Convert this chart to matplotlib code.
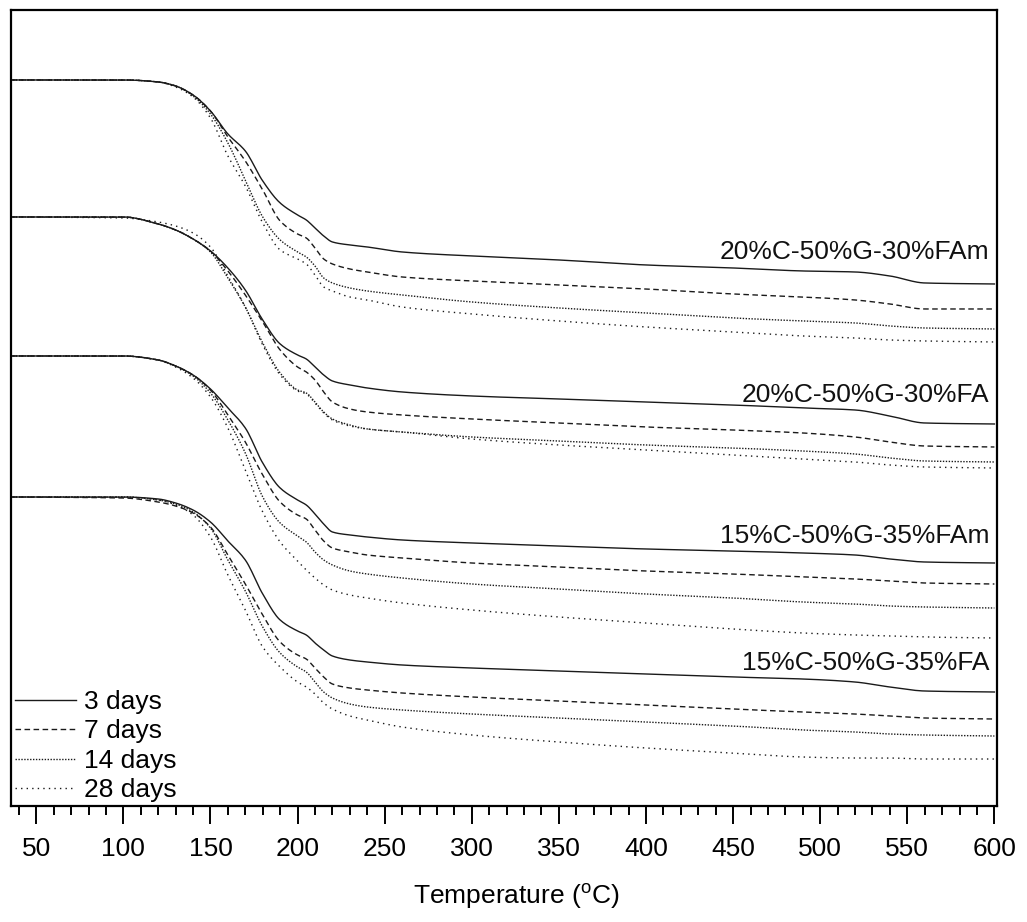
import numpy as np
import matplotlib
matplotlib.use("Agg")
from matplotlib import pyplot as plt

plt.rcParams['font.family'] = ['Liberation Sans', 'DejaVu Sans']
plt.rcParams['mathtext.fontset'] = 'custom'
plt.rcParams['mathtext.rm'] = 'Liberation Sans'

# temperatura (C) comun a todas las curvas
temp = [35, 100, 120, 130, 140, 150, 160, 170, 180, 190, 200, 205, 210, 215, 220,
        230, 240, 260, 300, 350, 400, 450, 490, 520, 540, 560, 600]

# masa residual (%) - 20%C-50%G-30%FAm
fam20_3d = [100, 100, 99.8, 99.4, 98.5, 96.9, 94.6, 92.9, 89.9, 87.7, 86.5, 86.0, 85.2, 84.4, 83.8,
            83.5, 83.3, 82.8, 82.4, 82.0, 81.5, 81.2, 80.9, 80.8, 80.4, 79.7, 79.6]
fam20_7d = [100, 100, 99.8, 99.4, 98.5, 96.9, 94.3, 91.9, 89.0, 85.9, 84.6, 84.2, 83.2, 82.1, 81.6,
            81.1, 80.8, 80.3, 79.9, 79.5, 79.1, 78.6, 78.3, 78.0, 77.6, 77.1, 77.1]
fam20_14d = [100, 100, 99.8, 99.4, 98.4, 96.6, 93.7, 90.0, 86.3, 84.0, 82.8, 82.3, 81.4, 80.2, 79.7,
             79.2, 78.9, 78.5, 77.8, 77.2, 76.7, 76.2, 75.9, 75.7, 75.4, 75.2, 75.1]
fam20_28d = [100, 100, 99.8, 99.3, 98.3, 96.2, 92.4, 89.4, 85.7, 83.0, 82.1, 81.6, 80.5, 79.3, 78.9,
             78.3, 78.0, 77.3, 76.6, 75.9, 75.3, 74.8, 74.4, 74.2, 74.0, 73.9, 73.8]

# 20%C-50%G-30%FA
fa20_3d = [100, 100, 99.3, 98.7, 97.8, 96.6, 94.9, 92.7, 89.7, 87.3, 86.2, 85.8, 85.0, 84.2, 83.6,
           83.2, 82.9, 82.5, 82.1, 81.8, 81.5, 81.2, 80.9, 80.7, 80.1, 79.4, 79.3]
fa20_7d = [100, 100, 99.3, 98.7, 97.8, 96.6, 94.6, 92.2, 89.5, 86.7, 85.0, 84.5, 83.7, 82.5, 81.5,
           80.8, 80.5, 80.2, 79.8, 79.4, 79.0, 78.7, 78.4, 78.0, 77.5, 77.1, 77.0]
fa20_14d = [100, 100, 99.3, 98.7, 97.8, 96.5, 93.9, 91.0, 87.4, 84.4, 82.7, 82.4, 81.5, 80.5, 79.8,
            79.2, 78.8, 78.5, 78.0, 77.6, 77.2, 76.9, 76.6, 76.3, 75.9, 75.6, 75.5]
fa20_28d = [100, 99.9, 99.5, 99.1, 98.4, 97.0, 94.1, 91.0, 87.2, 84.2, 82.6, 82.3, 81.4, 80.4, 79.7,
            79.1, 78.8, 78.5, 77.8, 77.2, 76.7, 76.2, 75.8, 75.5, 75.2, 75.0, 74.9]

# 15%C-50%G-35%FAm
fam15_3d = [100, 100, 99.6, 99.0, 98.1, 96.7, 94.8, 92.8, 89.3, 86.8, 85.6, 85.1, 84.2, 83.2, 82.4,
            82.1, 81.9, 81.6, 81.3, 81.0, 80.7, 80.5, 80.3, 80.1, 79.7, 79.4, 79.3]
fam15_7d = [100, 100, 99.6, 99.0, 98.1, 96.6, 94.1, 91.4, 88.1, 85.4, 84.1, 83.7, 82.6, 81.5, 80.8,
            80.4, 80.1, 79.8, 79.3, 78.9, 78.5, 78.2, 77.9, 77.7, 77.5, 77.3, 77.2]
fam15_14d = [100, 100, 99.6, 99.0, 98.0, 96.3, 93.6, 90.3, 85.9, 83.3, 82.0, 81.4, 80.4, 79.6, 79.1,
             78.5, 78.2, 77.8, 77.2, 76.7, 76.2, 75.8, 75.4, 75.2, 75.0, 74.9, 74.8]
fam15_28d = [100, 100, 99.6, 98.9, 97.8, 95.9, 92.8, 88.6, 84.4, 81.4, 79.5, 78.6, 77.8, 77.1, 76.6,
             76.1, 75.8, 75.3, 74.6, 73.9, 73.3, 72.7, 72.3, 72.1, 72.0, 71.9, 71.8]

# 15%C-50%G-35%FA
fa15_3d = [100, 100, 99.8, 99.4, 98.7, 97.5, 95.6, 93.7, 90.3, 87.7, 86.6, 86.2, 85.4, 84.7, 84.1,
           83.7, 83.5, 83.2, 82.9, 82.6, 82.3, 82.0, 81.8, 81.5, 81.0, 80.6, 80.5]
fa15_7d = [100, 99.9, 99.5, 99.1, 98.4, 97.0, 94.2, 91.3, 88.2, 85.5, 84.2, 83.8, 82.9, 82.0, 81.3,
           80.9, 80.7, 80.4, 80.0, 79.6, 79.2, 78.8, 78.5, 78.3, 78.1, 77.9, 77.8]
fa15_14d = [100, 100, 99.7, 99.3, 98.5, 96.9, 93.7, 90.6, 87.0, 84.4, 83.0, 82.5, 81.5, 80.5, 79.9,
            79.3, 79.0, 78.7, 78.3, 77.9, 77.5, 77.1, 76.7, 76.5, 76.3, 76.2, 76.1]
fa15_28d = [100, 100, 99.7, 99.2, 98.2, 96.0, 92.2, 88.7, 85.0, 83.0, 81.5, 81.0, 80.3, 79.4, 78.8,
            78.1, 77.7, 77.0, 76.2, 75.5, 74.9, 74.4, 74.0, 73.9, 73.9, 73.8, 73.8]

mezclas = ["20%C-50%G-30%FAm", "20%C-50%G-30%FA", "15%C-50%G-35%FAm", "15%C-50%G-35%FA"]
curvas = [[fam20_3d, fam20_7d, fam20_14d, fam20_28d],
          [fa20_3d, fa20_7d, fa20_14d, fa20_28d],
          [fam15_3d, fam15_7d, fam15_14d, fam15_28d],
          [fa15_3d, fa15_7d, fa15_14d, fa15_28d]]
desplazamiento = [0, 13.7, 27.6, 41.7]   # separacion vertical entre mezclas
etiqueta_y = [82.8, 68.5, 54.4, 41.7]
edades = ["3 days", "7 days", "14 days", "28 days"]
estilos = ['-', (0, (4, 2.5)), (0, (1, 1.1)), (0, (1, 3))]


def suavizar(x, y, n=600):
    # interpolacion cubica monotona (Fritsch-Carlson) para trazar la curva
    x = np.asarray(x, float)
    y = np.asarray(y, float)
    h = np.diff(x)
    d = np.diff(y) / h
    m = np.zeros_like(y)
    for k in range(1, len(y) - 1):
        if d[k - 1] * d[k] > 0:
            w1 = 2 * h[k] + h[k - 1]
            w2 = h[k] + 2 * h[k - 1]
            m[k] = (w1 + w2) / (w1 / d[k - 1] + w2 / d[k])
    m[0] = d[0]
    m[-1] = d[-1]
    xx = np.linspace(x[0], x[-1], n)
    idx = np.clip(np.searchsorted(x, xx) - 1, 0, len(h) - 1)
    t = (xx - x[idx]) / h[idx]
    h00 = 2 * t**3 - 3 * t**2 + 1
    h10 = t**3 - 2 * t**2 + t
    h01 = -2 * t**3 + 3 * t**2
    h11 = t**3 - t**2
    yy = h00 * y[idx] + h10 * h[idx] * m[idx] + h01 * y[idx + 1] + h11 * h[idx] * m[idx + 1]
    return xx, yy


fig = plt.figure(figsize=(10.27, 9.22), dpi=100)
ax = fig.add_axes([0.0107, 0.1258, 0.9601, 0.8634])

for i in range(4):
    for j in range(4):
        masa = np.array(curvas[i][j]) - desplazamiento[i]
        xs, ys = suavizar(temp, masa)
        ax.plot(xs, ys, color='#1a1a1a', lw=1.0, linestyle=estilos[j],
                label=edades[j] if i == 0 else None)
    ax.text(597, etiqueta_y[i], mezclas[i], ha='right', va='center', fontsize=19, color='#111')

ax.set_xlim(35.5, 601.5)
ax.set_ylim(27.4, 107)
ax.set_xticks(np.arange(50, 601, 50))
ax.set_xticks(np.arange(40, 601, 10), minor=True)
ax.set_yticks([])
ax.tick_params(axis='x', which='major', direction='out', length=13, width=1.4, labelsize=19, pad=9)
ax.tick_params(axis='x', which='minor', direction='out', length=6.5, width=1.4)
for s in ax.spines.values():
    s.set_linewidth(1.6)

ax.set_xlabel('Temperature ($^{\\mathrm{o}}$C)', fontsize=19)
ax.xaxis.set_label_coords(0.513, -0.094)

ax.legend(loc='lower left', frameon=False, fontsize=19, handlelength=2.3,
          handletextpad=0.3, labelspacing=0.2, borderaxespad=0.05, borderpad=0.1)

fig.savefig("out.png", dpi=100)
